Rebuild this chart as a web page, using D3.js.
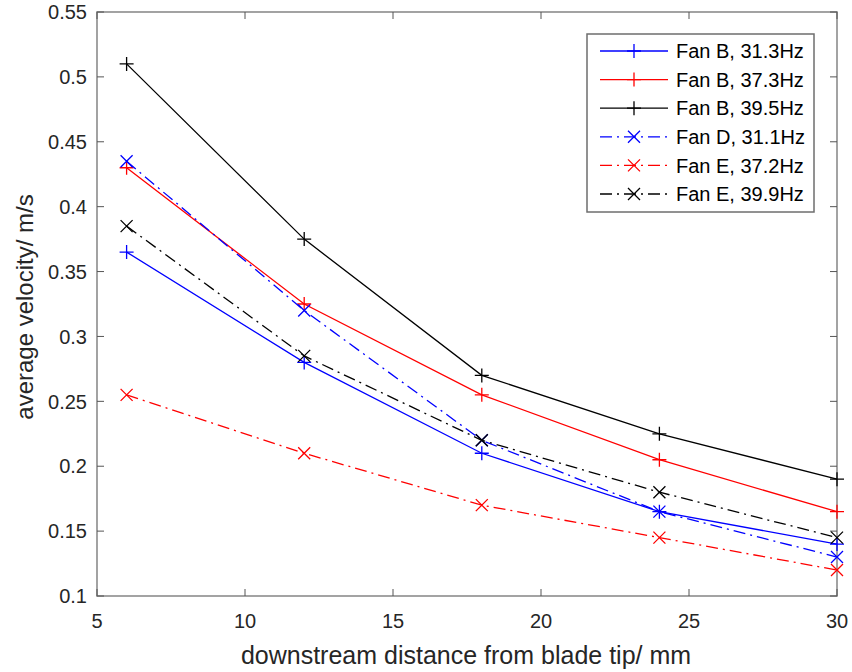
<!DOCTYPE html>
<html><head><meta charset="utf-8">
<script src="https://cdn.jsdelivr.net/npm/d3@7"></script>
<style>body{margin:0;background:#fff}svg{display:block}text{font-family:"Liberation Sans",Arial,sans-serif}</style>
</head><body>
<script>
const distances = [6, 12, 18, 24, 30];
const seriesNames = ["Fan B, 31.3Hz","Fan B, 37.3Hz","Fan B, 39.5Hz","Fan D, 31.1Hz","Fan E, 37.2Hz","Fan E, 39.9Hz"];
const fanB313 = [0.365, 0.28, 0.21, 0.165, 0.14];
const fanB373 = [0.43, 0.325, 0.255, 0.205, 0.165];
const fanB395 = [0.51, 0.375, 0.27, 0.225, 0.19];
const fanD311 = [0.435, 0.32, 0.22, 0.165, 0.13];
const fanE372 = [0.255, 0.21, 0.17, 0.145, 0.12];
const fanE399 = [0.385, 0.285, 0.22, 0.18, 0.145];
const xTicks = [5, 10, 15, 20, 25, 30];
const yTicks = [0.1, 0.15, 0.2, 0.25, 0.3, 0.35, 0.4, 0.45, 0.5, 0.55];

const colors = ["#0000ff","#ff0000","#000000","#0000ff","#ff0000","#000000"];
const markers = ["+","+","+","x","x","x"];
const dashed = [false,false,false,true,true,true];
const values = [fanB313, fanB373, fanB395, fanD311, fanE372, fanE399];

const W = 852, H = 672;
const L = 97, R = 837, T = 12, B = 596;
const svg = d3.select("body").append("svg").attr("width", W).attr("height", H);
const x = d3.scaleLinear().domain([5, 30]).range([L, R]);
const y = d3.scaleLinear().domain([0.1, 0.55]).range([B, T]);
const axisCol = "#8c8c8c", textCol = "#262626";

const g = svg.append("g");
g.append("rect").attr("x", L).attr("y", T).attr("width", R - L).attr("height", B - T)
  .attr("fill", "none").attr("stroke", axisCol).attr("stroke-width", 1.6);
const tl = 7;
xTicks.forEach(v => {
  g.append("line").attr("x1", x(v)).attr("x2", x(v)).attr("y1", B).attr("y2", B - tl).attr("stroke", "#555").attr("stroke-width", 1);
  g.append("line").attr("x1", x(v)).attr("x2", x(v)).attr("y1", T).attr("y2", T + tl).attr("stroke", "#555").attr("stroke-width", 1);
  g.append("text").attr("x", x(v)).attr("y", 628).attr("text-anchor", "middle")
    .attr("font-size", 20).attr("fill", textCol).text(v);
});
yTicks.forEach(v => {
  g.append("line").attr("x1", L).attr("x2", L + tl).attr("y1", y(v)).attr("y2", y(v)).attr("stroke", "#555").attr("stroke-width", 1);
  g.append("line").attr("x1", R).attr("x2", R - tl).attr("y1", y(v)).attr("y2", y(v)).attr("stroke", "#555").attr("stroke-width", 1);
  g.append("text").attr("x", 87).attr("y", y(v)).attr("dy", "0.36em").attr("text-anchor", "end")
    .attr("font-size", 20).attr("fill", textCol).text(d3.format("")(v));
});
svg.append("text").attr("x", (L + R) / 2 - 1).attr("y", 664).attr("text-anchor", "middle")
  .attr("font-size", 25).attr("fill", textCol).text("downstream distance from blade tip/ mm");
svg.append("text").attr("transform", `translate(33,${(T + B) / 2 + 3}) rotate(-90)`).attr("text-anchor", "middle")
  .attr("font-size", 24).attr("fill", textCol).text("average velocity/ m/s");

function drawMarker(sel, type, cx, cy, col) {
  if (type === "+") {
    const s = 7;
    sel.append("path").attr("d", `M${cx - s},${cy}H${cx + s}M${cx},${cy - s}V${cy + s}`)
      .attr("stroke", col).attr("stroke-width", 1.3).attr("fill", "none");
  } else {
    const s = 6;
    sel.append("path").attr("d", `M${cx - s},${cy - s}L${cx + s},${cy + s}M${cx - s},${cy + s}L${cx + s},${cy - s}`)
      .attr("stroke", col).attr("stroke-width", 1.3).attr("fill", "none");
  }
}
const dash = "12,5,2,5";
const line = d3.line().x((d, i) => x(distances[i])).y(d => y(d));
values.forEach((vals, k) => {
  const sg = svg.append("g");
  sg.append("path").attr("d", line(vals)).attr("fill", "none").attr("stroke", colors[k])
    .attr("stroke-width", 1.3).attr("stroke-dasharray", dashed[k] ? dash : null);
  vals.forEach((v, i) => drawMarker(sg, markers[k], x(distances[i]), y(v), colors[k]));
});

const lg = svg.append("g");
lg.append("rect").attr("x", 587).attr("y", 34).attr("width", 227).attr("height", 178)
  .attr("fill", "#fff").attr("stroke", "#6e6e6e").attr("stroke-width", 1.5);
seriesNames.forEach((n, k) => {
  const yy = 51 + k * 28.6;
  lg.append("line").attr("x1", 600).attr("x2", 668).attr("y1", yy).attr("y2", yy)
    .attr("stroke", colors[k]).attr("stroke-width", 1.3).attr("stroke-dasharray", dashed[k] ? dash : null);
  drawMarker(lg, markers[k], 634, yy, colors[k]);
  lg.append("text").attr("x", 676).attr("y", yy).attr("dy", "0.36em").attr("font-size", 20)
    .attr("fill", "#000").text(n);
});
</script>
</body></html>
